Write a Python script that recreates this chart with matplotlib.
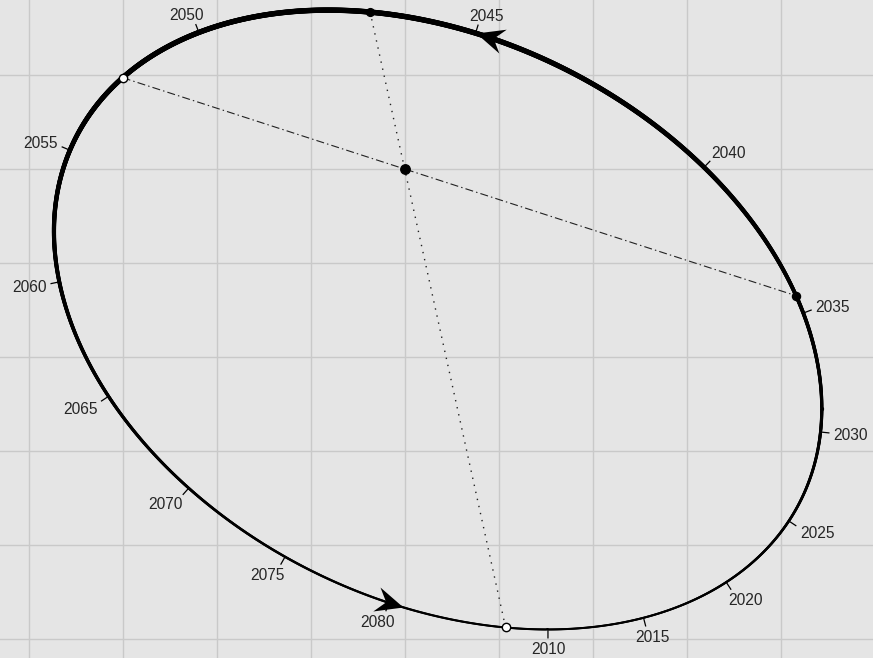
import numpy as np
import matplotlib
matplotlib.use("Agg")
import matplotlib.pyplot as plt
from matplotlib.collections import LineCollection
from matplotlib.markers import MarkerStyle
from matplotlib.path import Path
from matplotlib.transforms import Affine2D

# ---------------- data ----------------
label_years = [2010, 2015, 2020, 2025, 2030, 2035, 2040, 2045,
               2050, 2055, 2060, 2065, 2070, 2075, 2080]
arrow_years = [2045.0, 2080.7]
orbit_period = 77.7            # years
perihelion_year = 2046.76
eccentricity = 0.49
focus_xy = [0.0, 0.0]
apse_vector = [-0.7205, 3.2735]       # projected semi-major axis (towards perihelion)
conjugate_vector = [-4.02, 0.37]      # projected semi-minor axis
node_line_angle = -17.94              # degrees, line of nodes through the focus
x_limits = [-4.305, 4.982]
y_limits = [-5.202, 1.798]
grid_x = list(range(-4, 5))
grid_y = list(range(-5, 2))

# ---------------- helpers ----------------
e = eccentricity
u = np.array(apse_vector)
v = np.array(conjugate_vector)
F = np.array(focus_xy)


def position(E):
    E = np.atleast_1d(np.asarray(E, dtype=float))
    return (F[:, None] + u[:, None] * (np.cos(E) - e) + v[:, None] * np.sin(E)).T


def tangent(E):
    E = np.atleast_1d(np.asarray(E, dtype=float))
    return (-u[:, None] * np.sin(E) + v[:, None] * np.cos(E)).T


def ecc_anomaly(year):
    M = 2 * np.pi * (np.asarray(year, dtype=float) - perihelion_year) / orbit_period
    E = np.array(M, dtype=float)
    for _ in range(60):
        E = E - (E - e * np.sin(E) - M) / (1 - e * np.cos(E))
    return E


W, H, DPI = 873, 658, 100
fig = plt.figure(figsize=(W / DPI, H / DPI), dpi=DPI)
ax = fig.add_axes([0, 0, 1, 1])
ax.set_xlim(*x_limits)
ax.set_ylim(*y_limits)
ax.set_facecolor('#e5e5e5')
ax.set_xticks(grid_x)
ax.set_yticks(grid_y)
ax.grid(True, color='#c9c9c9', lw=1.0)
ax.set_axisbelow(True)
ax.tick_params(length=0, labelbottom=False, labelleft=False)
for s in ax.spines.values():
    s.set_visible(False)

ppu = W / (x_limits[1] - x_limits[0])   # pixels per data unit

# ---------------- orbit with varying width ----------------
Es = np.linspace(0, 2 * np.pi, 2400)
pts = position(Es)
segs = np.stack([pts[:-1], pts[1:]], axis=1)
ymid = 0.5 * (pts[:-1, 1] + pts[1:, 1])
ytop, ybot = pts[:, 1].max(), pts[:, 1].min()
lw_max, lw_min = 3.9, 1.45
lws = lw_min + (ymid - ybot) / (ytop - ybot) * (lw_max - lw_min)
lc = LineCollection(segs, linewidths=lws, colors='black', capstyle='round',
                    joinstyle='round', zorder=3)
ax.add_collection(lc)

# ---------------- line of apsides (dotted) ----------------
peri = position(0.0)[0]
aph = position(np.pi)[0]
ax.plot([peri[0], aph[0]], [peri[1], aph[1]], color='#222222', lw=1.0,
        linestyle=(0, (1, 4.2)), zorder=2)

# ---------------- line of nodes (dash-dot) ----------------
d = np.array([np.cos(np.radians(node_line_angle)), np.sin(np.radians(node_line_angle))])
cross = (pts[:, 0] - F[0]) * d[1] - (pts[:, 1] - F[1]) * d[0]
idx = np.where(np.sign(cross[:-1]) != np.sign(cross[1:]))[0]
nodes = []
for i in idx:
    t = cross[i] / (cross[i] - cross[i + 1])
    Eroot = Es[i] + t * (Es[i + 1] - Es[i])
    nodes.append(position(Eroot)[0])
nodes = np.array(nodes)
dots = (nodes - F) @ d
n_asc = nodes[np.argmax(dots)]
n_desc = nodes[np.argmin(dots)]
ax.plot([n_desc[0], n_asc[0]], [n_desc[1], n_asc[1]], color='#222222', lw=0.8,
        linestyle=(0, (7.2, 2.8, 1.3, 2.8)), zorder=2)

# ---------------- markers ----------------
ax.plot(*F, 'o', color='black', ms=6.8, zorder=5)
ax.plot(*peri, 'o', color='black', ms=5.6, zorder=5)
ax.plot(*n_asc, 'o', color='black', ms=5.8, zorder=5)
for p in (aph, n_desc):
    ax.plot(*p, 'o', mfc='white', mec='black', mew=1.0, ms=6.0, zorder=5)

# ---------------- arrows ----------------
verts = [(0, 0), (-1, 0.45), (-0.65, 0), (-1, -0.45), (0, 0)]
codes = [Path.MOVETO, Path.LINETO, Path.LINETO, Path.LINETO, Path.CLOSEPOLY]
head = Path(verts, codes)
for yr in arrow_years:
    E = ecc_anomaly(yr)
    p = position(E)[0]
    tg = tangent(E)[0]
    ang = np.degrees(np.arctan2(tg[1], tg[0]))
    m = MarkerStyle(head, transform=Affine2D().rotate_deg(ang))
    ax.plot(p[0], p[1], marker=m, ms=40, color='black', mew=0, zorder=6)

# ---------------- year ticks and labels ----------------
tick_px, gap_px, hw_px, hh_px, k = 9.0, 4.0, 17.5, 5.9, 1.3
for yr in label_years:
    E = ecc_anomaly(yr)
    p = position(E)[0]
    tg = tangent(E)[0]
    tg = tg / np.hypot(*tg)
    n = np.array([tg[1], -tg[0]])
    q = p + n * tick_px / ppu
    ax.plot([p[0], q[0]], [p[1], q[1]], color='black', lw=0.9, zorder=4,
            solid_capstyle='butt')
    box = np.array([np.sign(n[0]) * min(1.0, abs(n[0]) * k) * hw_px,
                    np.sign(n[1]) * min(1.0, abs(n[1]) * k) * hh_px])
    c = q + (n * gap_px + box) / ppu
    ax.text(c[0], c[1] - hh_px / ppu, str(yr), ha='center', va='baseline',
            fontsize=11.2, color='#262626',
            family=['Liberation Sans', 'DejaVu Sans'], zorder=4)

fig.savefig('out.png', dpi=DPI)
